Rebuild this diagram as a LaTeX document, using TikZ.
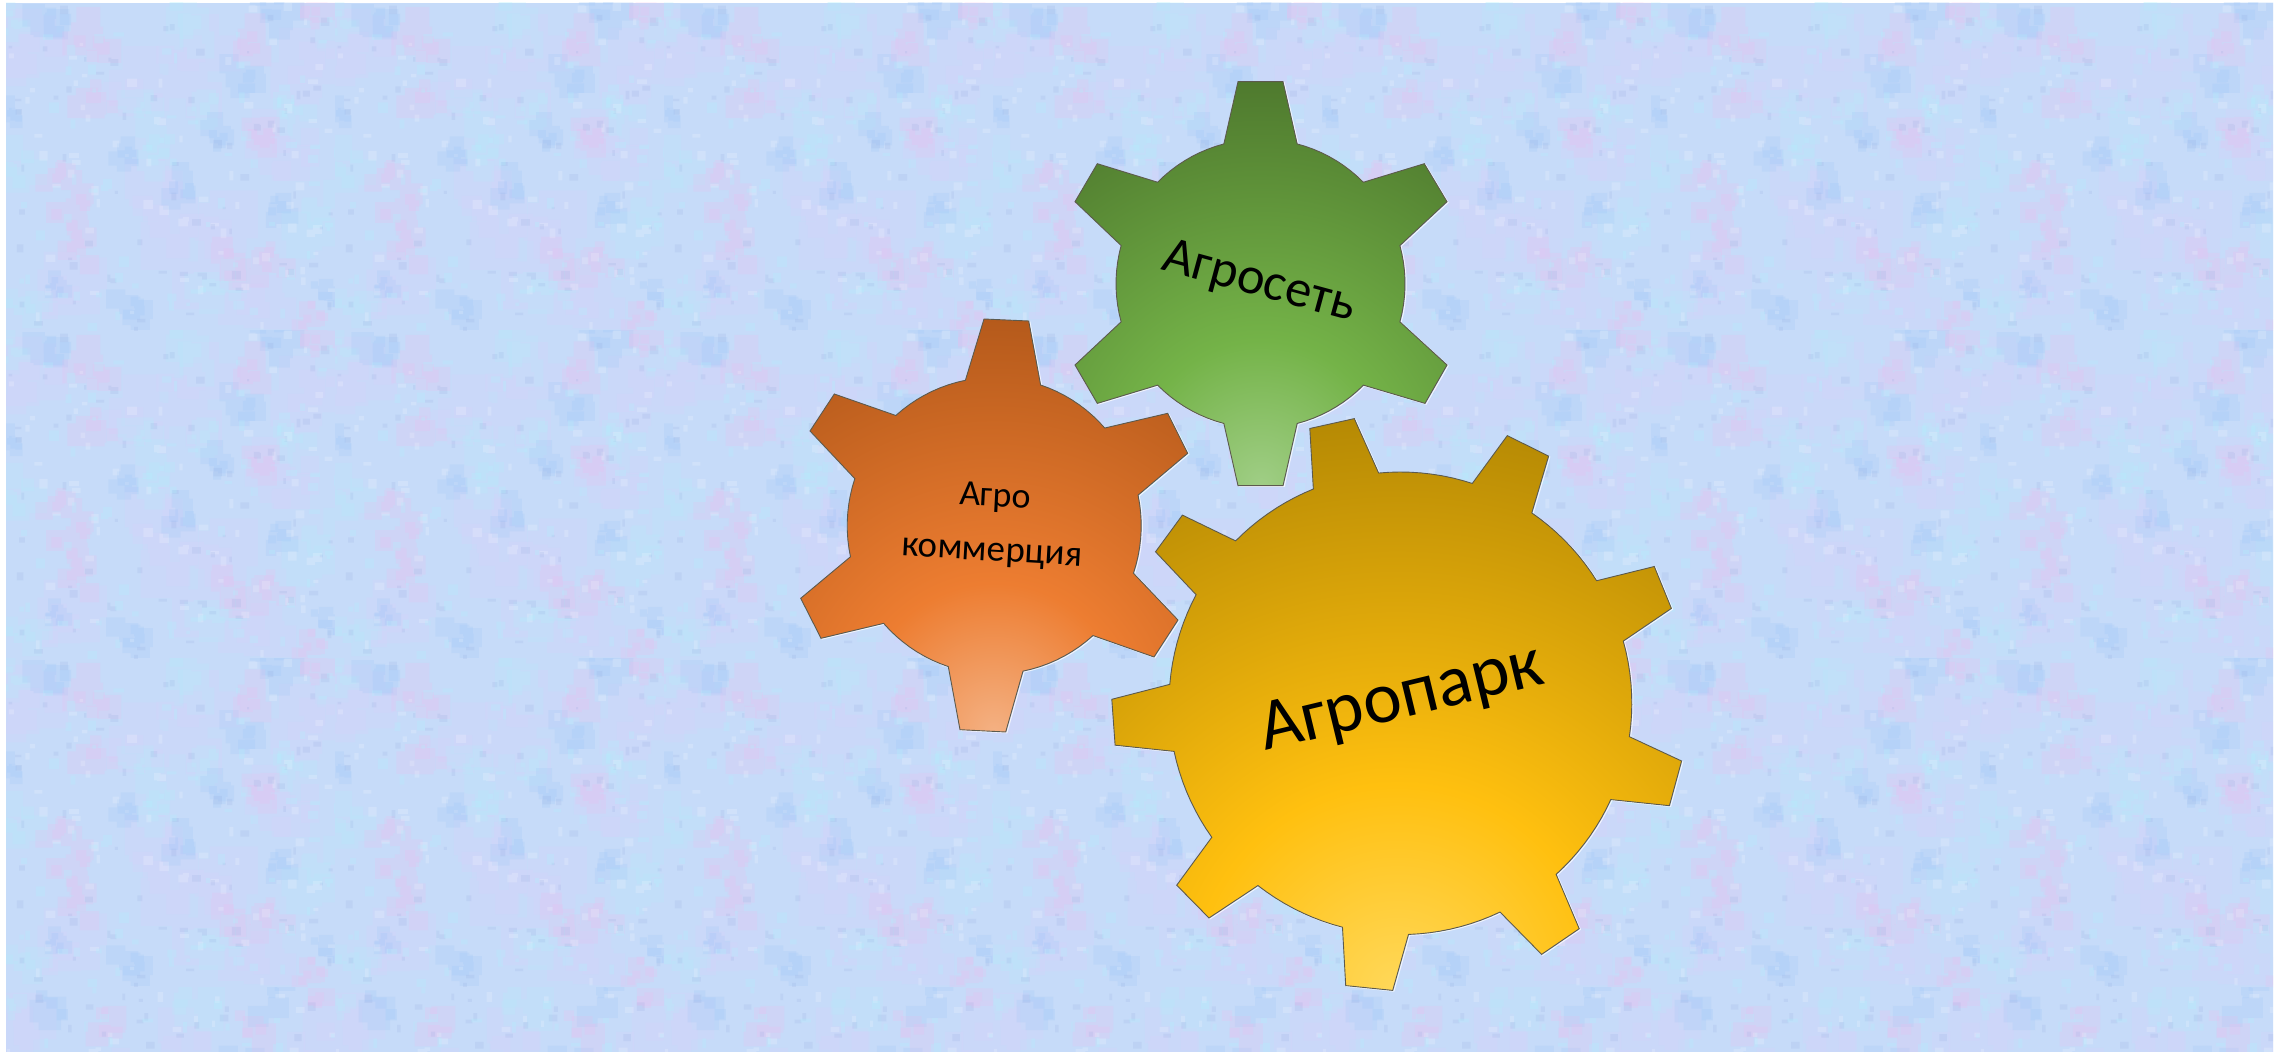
\documentclass[tikz,border=0pt]{standalone}
\usepackage{fontspec}
\setmainfont{Carlito}
\definecolor{bgbase}{HTML}{C6DBF9}
\definecolor{bgpink}{HTML}{F6B6EC}
\definecolor{bgcyan}{HTML}{B0F2FE}
\definecolor{bgblue}{HTML}{94C2F8}
\definecolor{bglav}{HTML}{DFCFFC}
\definecolor{bgdark}{HTML}{8AA2DA}
\definecolor{ga}{HTML}{A0CE86}\definecolor{gb}{HTML}{74B348}\definecolor{gc}{HTML}{4F7A2E}
\definecolor{oa}{HTML}{F4B183}\definecolor{ob}{HTML}{ED7D31}\definecolor{oc}{HTML}{B55A1B}
\definecolor{ya}{HTML}{FFD85A}\definecolor{yb}{HTML}{FFC00F}\definecolor{yc}{HTML}{B68A04}
\definecolor{edge}{HTML}{5C5A4E}
\pgfdeclareradialshading{greenshade}{\pgfpointorigin}{color(0bp)=(ga); color(9bp)=(gb); color(25bp)=(gc); color(50bp)=(gc)}
\pgfdeclareradialshading{orangeshade}{\pgfpointorigin}{color(0bp)=(oa); color(9bp)=(ob); color(25bp)=(oc); color(50bp)=(oc)}
\pgfdeclareradialshading{yellowshade}{\pgfpointorigin}{color(0bp)=(ya); color(9bp)=(yb); color(25bp)=(yc); color(50bp)=(yc)}
\tikzset{
  gearedge/.style={draw=edge, line width=.45pt, line join=miter},
  gearglow/.style={draw=white, draw opacity=.75, line width=.5pt},
  gearlabel/.style={inner sep=0pt, text=black}
}
% ellipse arc: cx, cy, a, b, from, to
\newcommand\ea[6]{-- plot[domain=#5:#6,samples=10,variable=\t]({#1+#3*cos(\t)},{#2+#4*sin(\t)})}
\newcommand\ga[2]{\ea{1260.5}{283.7}{144.5}{144.5}{#1}{#2}}
\newcommand\oaa[2]{\ea{994.2}{525.7}{147}{148.3}{#1}{#2}}
\newcommand\ya[2]{\ea{1400.4}{703.3}{231.4}{231.3}{#1}{#2}}
\newcommand\pathG{(1238,81.7) -- (1283,81.7) \ga{284.7}{315.4} -- (1424.3,163.7) -- (1447,201.7) \ga{344.7}{375.3} -- (1447,365) -- (1425,403.4) \ga{44.6}{75.3} -- (1283,485.7) -- (1238,485.7) \ga{104.7}{135.4} -- (1097.3,403.4) -- (1075,365) \ga{164.7}{195.3} -- (1075,201.7) -- (1097.3,163.7) \ga{224.6}{255.3} -- cycle}
\newcommand\pathO{(984,319) -- (1028.7,321) \oaa{288.4}{318.8} -- (1167.7,413.3) -- (1187.7,453.3) \oaa{348.1}{378.7} -- (1178,620) -- (1154,657) \oaa{47.8}{78.7} -- (1005.7,732) -- (960,729.7) \oaa{108.2}{138.8} -- (821,638.3) -- (800.7,598.3) \oaa{167.9}{198.5} -- (810,431) -- (834.3,394) \oaa{228}{258.7} -- cycle}
\newcommand\pathY{(1309.8,428.5) -- (1354.3,418.6) \ya{264.6}{288.1} -- (1507.3,435.6) -- (1548.6,456.1) \ya{304.6}{328} -- (1654.3,566.5) -- (1671.4,608.4) \ya{344.4}{368.3} -- (1681.6,761) -- (1669.4,805.7) \ya{24.6}{47.7} -- (1579.2,928.7) -- (1541.6,954.4) \ya{64.5}{88} -- (1392.7,990.4) -- (1345.7,985.6) \ya{104.5}{128} -- (1209,918) -- (1176.7,885.2) \ya{144.6}{168} -- (1115.1,745.2) -- (1111.8,699.3) \ya{184.7}{208} -- (1155.5,551.8) -- (1182.4,515.1) \ya{224.6}{247.9} -- cycle}
\newcommand\lavlist{30/50/50,120/90/45,300/60/45,200/250/60,150/200/50,280/150/45,60/290/40,180/60/45,250/300/40}
\newcommand\pinklist{94/40/30,91/97/28,54/170/22,64/210/26,71/244/24,247/37/26,307/10/22,254/137/24,227/260/26,260/257/24,307/314/20}
\newcommand\cyanlist{174/20/34,7/163/32,137/107/24,154/143/26,282/107/22,311/210/36,17/307/24,220/287/32,200/100/24,8/20/18}
\newcommand\bluelist{51/14/28,264/7/26,237/80/24,211/134/20,47/284/16,121/150/18,177/187/22,274/207/20,127/307/24,320/290/18,10/110/16}
% colour, list, rectangles per blob
\newcommand\cluster[3]{%
  \fill[#1,fill opacity=.17] foreach \bx/\by/\br in #2 { foreach \m in {1,...,#3} { ({\bx+\br*(rnd+rnd-1)-.4*\br},{\by+\br*(rnd+rnd-1)-.4*\br}) rectangle ++({.8*\br},{.8*\br}) } };
  \fill[#1,fill opacity=.19] foreach \bx/\by/\br in #2 { foreach \m in {1,...,#3} { ({\bx+.7*\br*(rnd+rnd-1)-.2*\br},{\by+.7*\br*(rnd+rnd-1)-.2*\br}) rectangle ++({.4*\br},{.4*\br}) } };}
% x, y, noise height, noise count per layer, rectangles per blob
\newcommand\bgtile[5]{%
  \begin{scope}[shift={(#1,#2)}]
    \clip (0,0) rectangle (329,328);
    \fill[bgbase] (0,0) rectangle (329,328);
    \pgfmathsetseed{4217}
    \cluster{bglav}{\lavlist}{#5}
    \cluster{bgcyan}{\cyanlist}{#5}
    \cluster{bgblue}{\bluelist}{#5}
    \cluster{bgpink}{\pinklist}{#5}
    \fill[white,fill opacity=.18] foreach \k in {1,...,#4} { ({329*rnd},{#3*rnd}) rectangle ++({3+7*rnd},{3+7*rnd}) };
    \fill[bgdark,fill opacity=.15] foreach \k in {1,...,#4} { ({329*rnd},{#3*rnd}) rectangle ++({2+7*rnd},{2+7*rnd}) };
    \fill[bgcyan,fill opacity=.26] foreach \k in {1,...,#4} { ({329*rnd},{#3*rnd}) rectangle ++({3+8*rnd},{3+8*rnd}) };
  \end{scope}}
\begin{document}
\begin{tikzpicture}[x=.5pt,y=-.5pt]
  \path[use as bounding box,fill=white] (0,0) rectangle (2285,1052);
  \begin{scope}
    \clip (6,3) rectangle (2273,1052);
    \foreach \i in {0,...,6}{
      \pgfmathsetmacro\tx{6+329*\i}
      \foreach \j in {0,1,2}{
        \pgfmathsetmacro\ty{3+328*\j}
        \bgtile{\tx}{\ty}{328}{70}{5}
      }
      \bgtile{\tx}{987}{70}{15}{3}
    }
  \end{scope}
  % green gear
  \draw[gearglow,shift={(1.2,.8)}] \pathG;
  \begin{scope}
    \clip \pathG;
    \shade[shading=greenshade] (889,82) rectangle (1633,890);
  \end{scope}
  \draw[gearedge] \pathG;
  % orange gear
  \draw[gearglow,shift={(1.2,.8)}] \pathO;
  \begin{scope}
    \clip \pathO;
    \shade[shading=orangeshade] (606,319) rectangle (1382,1145);
  \end{scope}
  \draw[gearedge] \pathO;
  % yellow gear
  \draw[gearglow,shift={(1.2,.8)}] \pathY;
  \begin{scope}
    \clip \pathY;
    \shade[shading=yellowshade] (827,419) rectangle (1967,1561);
  \end{scope}
  \draw[gearedge] \pathY;
  \node[gearlabel,rotate=-15.2,font=\fontsize{26.3}{30}\selectfont] (agroset) at (1259,283.3) {Агросеть};
  \node[gearlabel,rotate=-3,font=\fontsize{18}{22}\selectfont] (agro) at (995,498) {Агро};
  \node[gearlabel,rotate=-3.3,font=\fontsize{18.4}{22}\selectfont] (kommerc) at (991.7,555) {коммерция};
  \node[gearlabel,rotate=13.6,font=\fontsize{36.4}{44}\selectfont] (agropark) at (1401.7,700) {Агропарк};
\end{tikzpicture}
\end{document}
